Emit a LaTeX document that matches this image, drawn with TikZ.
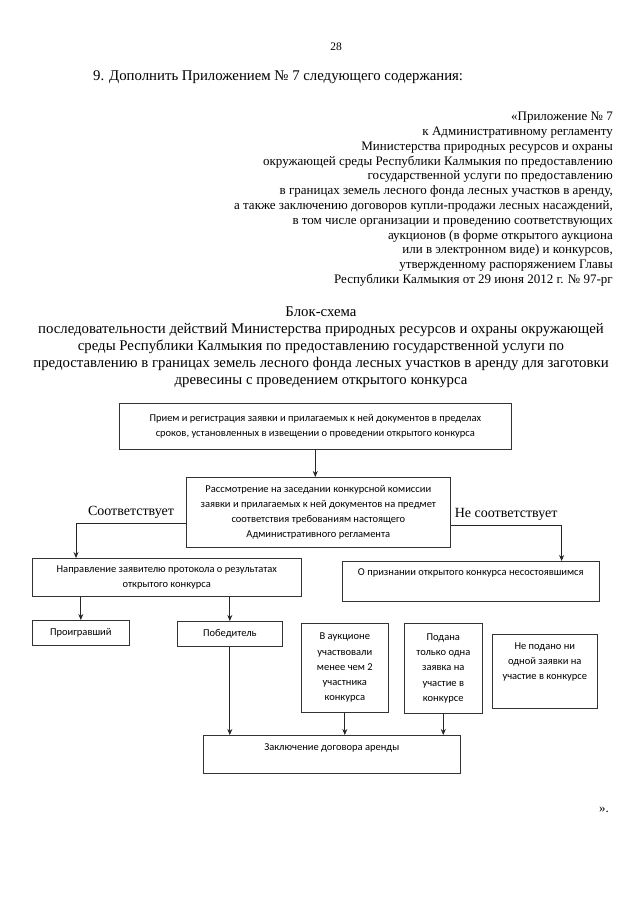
\documentclass[tikz,border=0pt]{standalone}
\usepackage{fontspec}
\setmainfont{Liberation Serif}
\newfontfamily\boxfamily{Carlito}
\usetikzlibrary{arrows.meta}

\tikzset{
	blok/.style={draw=black!80, line width=0.6pt, anchor=north west, inner sep=2pt,
		align=center, font=\boxfamily\fontsize{10.5}{15.3}\selectfont},
	strelka/.style={-{Stealth[length=6pt,width=5pt]}, draw=black!85, line width=0.7pt},
	metka/.style={above=4pt, inner sep=0pt, font=\fontsize{14}{16}\selectfont},
}

\begin{document}
\begin{tikzpicture}[x=1pt,y=-1pt]
\useasboundingbox[fill=white] (0,0) rectangle (640,905);

%========================================
% HEADER: page number and appendix text
%========================================
\node[font=\fontsize{11.5}{13}\selectfont] (stranica) at (336,47) {28};

\node[anchor=west, inner sep=0pt, font=\fontsize{14.8}{17.3}\selectfont] (punkt) at (93,77)
{9. Дополнить Приложением № 7 следующего содержания:};

\node[anchor=north east, inner sep=0pt, align=right, font=\fontsize{13}{14.8}\selectfont] (prilozh) at (613,112)
{«Приложение № 7\\
	к Административному регламенту\\
	Министерства природных ресурсов и охраны\\
	окружающей среды Республики Калмыкия по предоставлению\\
	государственной услуги по предоставлению\\
	в границах земель лесного фонда лесных участков в аренду,\\
	а также заключению договоров купли-продажи лесных насаждений,\\
	в том числе организации и проведению соответствующих\\
	аукционов (в форме открытого аукциона\\
	или в электронном виде) и конкурсов,\\
	утвержденному распоряжением Главы\\
	Республики Калмыкия от 29 июня 2012 г. № 97-рг};

% Title of the scheme
\node[anchor=north, inner sep=0pt, align=center, font=\fontsize{14.8}{17}\selectfont] (zagolovok) at (321,307)
{Блок-схема\\
	последовательности действий Министерства природных ресурсов и охраны окружающей\\
	среды Республики Калмыкия по предоставлению государственной услуги по\\
	предоставлению в границах земель лесного фонда лесных участков в аренду для заготовки\\
	древесины с проведением открытого конкурса};

%========================================
% BOXES
%========================================
\node[blok, minimum width=392pt, minimum height=46pt] (priem) at (119,403)
{Прием и регистрация заявки и прилагаемых к ней документов в пределах\\
	сроков, установленных в извещении о проведении открытого конкурса};

\node[blok, minimum width=264pt, minimum height=70pt] (rassm) at (186,477)
{Рассмотрение на заседании конкурсной комиссии\\
	заявки и прилагаемых к ней документов на предмет\\
	соответствия требованиям настоящего\\
	Административного регламента};

\node[blok, minimum width=269pt, minimum height=38pt] (napr) at (32,558)
{Направление заявителю протокола о результатах\\
	открытого конкурса};

\node[blok, minimum width=257pt, minimum height=40pt, text depth=18pt] (nesost) at (342,561)
{О признании открытого конкурса несостоявшимся};

% Results of the competition
\node[blok, minimum width=97pt, minimum height=25pt] (proigr) at (32,620) {Проигравший};
\node[blok, minimum width=105pt, minimum height=25pt] (pobed) at (177,621) {Победитель};

\node[blok, minimum width=87pt, minimum height=89pt] (menee) at (301,623)
{В аукционе\\ участвовали\\ менее чем 2\\ участника\\ конкурса};
\node[blok, minimum width=78pt, minimum height=90pt] (odna) at (404,623)
{Подана\\ только одна\\ заявка на\\ участие в\\ конкурсе};
\node[blok, minimum width=105pt, minimum height=74pt, text depth=20pt] (nipodano) at (492,634)
{Не подано ни\\ одной заявки на\\ участие в конкурсе};

\node[blok, minimum width=257pt, minimum height=38pt, text depth=14pt] (dogovor) at (203,735)
{Заключение договора аренды};

%========================================
% ARROWS
%========================================
\draw[strelka] (priem) -- (priem |- rassm.north);

% Branches of the commission decision
\draw[strelka] ([yshift=-11pt]rassm.west) -| node[metka, pos=0.25] {Соответствует}
([xshift=44pt]napr.north west);
\draw[strelka] ([yshift=-13pt]rassm.east) -| node[metka, pos=0.25] {Не соответствует}
([xshift=-38pt]nesost.north east);

% Protocol -> loser / winner
\draw[strelka] (napr.south -| proigr.north) -- (proigr.north);
\draw[strelka] (napr.south -| pobed.north) -- (pobed.north);

% Into the lease contract
\draw[strelka] (pobed) -- (pobed |- dogovor.north);
\draw[strelka] (menee) -- (menee |- dogovor.north);
\draw[strelka] (odna) -- (odna |- dogovor.north);

\node[font=\fontsize{13}{15}\selectfont] (konec) at (604,810) {».};
\end{tikzpicture}
\end{document}
